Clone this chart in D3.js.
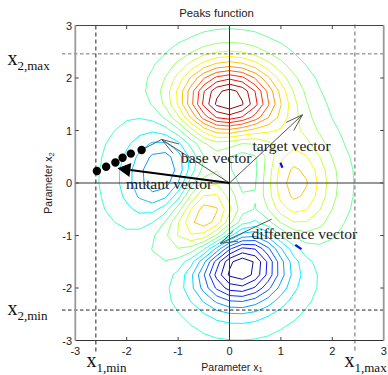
<!DOCTYPE html>
<html><head><meta charset="utf-8">
<script src="https://cdn.jsdelivr.net/npm/d3@7"></script>
<style>html,body{margin:0;padding:0;background:#fff;} svg{display:block;}</style>
</head><body>
<svg id="chart" width="388" height="375"></svg>
<script>
// ---- data ----
// sampling grid of the peaks surface (step 0.25, one extra sample beyond each edge)
const gridStep = 0.25;
const gridX = d3.range(-13, 14).map(i => i * gridStep);
const gridY = d3.range(-13, 14).map(i => i * gridStep);
const zMin = -6.5506, zMax = 8.1062, nLevels = 20;
// contour levels: evenly spaced between the extremes, extremes excluded
const levels = d3.range(1, nLevels + 1).map(k => zMin + k * (zMax - zMin) / (nLevels + 1));

const tickValues = [-3, -2, -1, 0, 1, 2, 3];
const tickLabels = ["-3", "-2", "-1", "0", "1", "2", "3"];

// parameter bounds
const x1Min = -2.6, x1Max = 2.44, x2Min = -2.42, x2Max = 2.46;

// population points
const popX = [-2.58, -2.40, -2.22, -2.08, -1.92, -1.71];
const popY = [0.23, 0.31, 0.39, 0.48, 0.56, 0.63];

// vectors [fromX, fromY, toX, toY]
const targetVec = [0, 0, 1.42, 1.30];
const baseVec = [0, 0, -1.32, 0.83];
const mutantVec = [0, 0, -2.18, 0.28];
const diffVec = [0.82, -0.69, -0.18, -1.15];
// short blue strokes
const blueMarks = [[0.99, 0.385, 1.03, 0.29], [1.28, -1.18, 1.40, -1.26]];

function peaks(x, y) {
  const sq = v => v * v;
  return 3 * sq(1 - x) * Math.exp(-sq(x) - sq(y + 1))
       - 10 * (x / 5 - Math.pow(x, 3) - Math.pow(y, 5)) * Math.exp(-sq(x) - sq(y))
       - (1 / 3) * Math.exp(-sq(x + 1) - sq(y));
}

// ---- layout ----
const svg = d3.select("#chart");
const L = 75.3, R = 383.7, T = 25.5, B = 340.5;
const xs = d3.scaleLinear().domain([-3, 3]).range([L, R]);
const ys = d3.scaleLinear().domain([-3, 3]).range([B, T]);

svg.append("defs").append("clipPath").attr("id", "plotClip")
  .append("rect").attr("x", L).attr("y", T).attr("width", R - L).attr("height", B - T);

// jet colormap (64 entries)
function jet(t) {
  t = Math.max(0, Math.min(1, t));
  t = Math.round(t * 63) / 63;
  const c = v => Math.round(255 * Math.max(0, Math.min(1, v)));
  return `rgb(${c(1.5 - Math.abs(4 * t - 3))},${c(1.5 - Math.abs(4 * t - 2))},${c(1.5 - Math.abs(4 * t - 1))})`;
}
const lmin = d3.min(levels), lmax = d3.max(levels);

// ---- contours ----
const nx = gridX.length, ny = gridY.length;
const values = new Array(nx * ny);
for (let j = 0; j < ny; j++)
  for (let i = 0; i < nx; i++) values[j * nx + i] = peaks(gridX[i], gridY[j]);

const contours = d3.contours().size([nx, ny]).thresholds(levels)(values);
const proj = d3.geoTransform({
  point(px, py) {
    this.stream.point(xs(gridX[0] + (px - 0.5) * gridStep), ys(gridY[0] + (py - 0.5) * gridStep));
  }
});
const path = d3.geoPath(proj);

svg.append("g").attr("clip-path", "url(#plotClip)")
  .selectAll("path").data(contours).join("path")
  .attr("d", path)
  .attr("fill", "none")
  .attr("stroke", d => jet((d.value - lmin) / (lmax - lmin)))
  .attr("stroke-width", 0.95)
  .attr("stroke-linejoin", "round");

// ---- axes through the origin ----
svg.append("line").attr("x1", xs(0)).attr("x2", xs(0)).attr("y1", T).attr("y2", B)
  .attr("stroke", "#333").attr("stroke-width", 1);
svg.append("line").attr("x1", L).attr("x2", R).attr("y1", ys(0)).attr("y2", ys(0))
  .attr("stroke", "#333").attr("stroke-width", 1);

// ---- bound lines ----
svg.append("line").attr("x1", 62).attr("x2", R).attr("y1", ys(x2Max)).attr("y2", ys(x2Max))
  .attr("stroke", "#777").attr("stroke-width", 1).attr("stroke-dasharray", "3.5,2.5");
svg.append("line").attr("x1", 62).attr("x2", R).attr("y1", ys(x2Min)).attr("y2", ys(x2Min))
  .attr("stroke", "#222").attr("stroke-width", 1).attr("stroke-dasharray", "3.5,2.5");
svg.append("line").attr("x1", xs(x1Min)).attr("x2", xs(x1Min)).attr("y1", T).attr("y2", 354)
  .attr("stroke", "#222").attr("stroke-width", 1).attr("stroke-dasharray", "4,3");
svg.append("line").attr("x1", xs(x1Max)).attr("x2", xs(x1Max)).attr("y1", T - 1).attr("y2", 352)
  .attr("stroke", "#666").attr("stroke-width", 1).attr("stroke-dasharray", "4,3");

// ---- frame and ticks ----
svg.append("line").attr("x1", L).attr("x2", R).attr("y1", T).attr("y2", T).attr("stroke", "#444").attr("stroke-width", 1);
svg.append("line").attr("x1", L).attr("x2", R).attr("y1", B).attr("y2", B).attr("stroke", "#333").attr("stroke-width", 1);
svg.append("line").attr("x1", L).attr("x2", L).attr("y1", T).attr("y2", B).attr("stroke", "#999").attr("stroke-width", 1.8);
svg.append("line").attr("x1", R).attr("x2", R).attr("y1", T).attr("y2", B).attr("stroke", "#999").attr("stroke-width", 1.8);

const tk = svg.append("g").attr("stroke", "#444").attr("stroke-width", 1);
tickValues.slice(1, -1).forEach(v => {
  tk.append("line").attr("x1", xs(v)).attr("x2", xs(v)).attr("y1", T).attr("y2", T + 3.5);
  tk.append("line").attr("x1", xs(v)).attr("x2", xs(v)).attr("y1", B).attr("y2", B - 3.5);
  tk.append("line").attr("y1", ys(v)).attr("y2", ys(v)).attr("x1", L).attr("x2", L + 3.5);
  tk.append("line").attr("y1", ys(v)).attr("y2", ys(v)).attr("x1", R).attr("x2", R - 3.5);
});

const sans = "'Liberation Sans', Arial, sans-serif";
const serif = "'Liberation Serif', 'Times New Roman', serif";

svg.append("g").selectAll("text").data(tickValues).join("text")
  .attr("x", d => xs(d)).attr("y", 355)
  .attr("text-anchor", "middle").attr("font-family", sans).attr("font-size", 11).attr("fill", "#222")
  .text((d, i) => tickLabels[i]);
svg.append("g").selectAll("text").data(tickValues).join("text")
  .attr("x", 72).attr("y", d => ys(d) + 4)
  .attr("text-anchor", "end").attr("font-family", sans).attr("font-size", 11).attr("fill", "#222")
  .text((d, i) => tickLabels[i]);

// title and axis titles
svg.append("text").attr("x", 216.5).attr("y", 16.5).attr("text-anchor", "middle")
  .attr("font-family", sans).attr("font-size", 11.4).attr("fill", "#222").text("Peaks function");

const xl = svg.append("text").attr("x", 232).attr("y", 370.5).attr("text-anchor", "middle")
  .attr("font-family", sans).attr("font-size", 10.5).attr("fill", "#222");
xl.append("tspan").text("Parameter x");
xl.append("tspan").attr("font-size", 7.5).attr("dy", 1.5).text("1");

const yl = svg.append("text").attr("transform", "translate(52,183) rotate(-90)").attr("text-anchor", "middle")
  .attr("font-family", sans).attr("font-size", 10.5).attr("fill", "#222");
yl.append("tspan").text("Parameter x");
yl.append("tspan").attr("font-size", 7.5).attr("dy", 2).text("2");

// bound labels
function boundLabel(x, y, sub) {
  const t = svg.append("text").attr("x", x).attr("y", y).attr("font-family", serif).attr("fill", "#111");
  t.append("tspan").attr("font-size", 20).text("x");
  t.append("tspan").attr("font-size", 13).attr("dy", 5).text(sub);
}
boundLabel(7.5, 65, "2,max");
boundLabel(7.5, 314.5, "2,min");
boundLabel(86.5, 366.5, "1,min");
boundLabel(344.5, 366.5, "1,max");

// ---- vectors ----
function openArrow(v, color, width) {
  const x1 = xs(v[0]), y1 = ys(v[1]), x2 = xs(v[2]), y2 = ys(v[3]);
  svg.append("line").attr("x1", x1).attr("y1", y1).attr("x2", x2).attr("y2", y2)
    .attr("stroke", color).attr("stroke-width", width);
  const a = Math.atan2(y1 - y2, x1 - x2), h = 18, w = 18 * Math.PI / 180;
  [a - w, a + w].forEach(b => {
    svg.append("line").attr("x1", x2).attr("y1", y2)
      .attr("x2", x2 + h * Math.cos(b)).attr("y2", y2 + h * Math.sin(b))
      .attr("stroke", color).attr("stroke-width", width);
  });
}
openArrow(targetVec, "#444", 0.9);
openArrow(baseVec, "#444", 0.9);
openArrow(diffVec, "#444", 0.9);

// link from the last population point to the base vector tip
svg.append("line").attr("x1", xs(popX[popX.length - 1])).attr("y1", ys(popY[popY.length - 1]))
  .attr("x2", xs(baseVec[2])).attr("y2", ys(baseVec[3])).attr("stroke", "#444").attr("stroke-width", 0.9);

// blue strokes
svg.append("g").selectAll("line").data(blueMarks).join("line")
  .attr("x1", d => xs(d[0])).attr("y1", d => ys(d[1])).attr("x2", d => xs(d[2])).attr("y2", d => ys(d[3]))
  .attr("stroke", "#1010e0").attr("stroke-width", 2.2);

// population
svg.append("g").selectAll("circle").data(popX).join("circle")
  .attr("cx", d => xs(d)).attr("cy", (d, i) => ys(popY[i])).attr("r", 4.2).attr("fill", "#000");

// mutant vector: thick shaft with filled head
{
  const v = mutantVec;
  const x1 = xs(v[0]), y1 = ys(v[1]), x2 = xs(v[2]), y2 = ys(v[3]);
  const a = Math.atan2(y1 - y2, x1 - x2), hl = 13, hw = 7;
  const bx = x2 + hl * Math.cos(a), by = y2 + hl * Math.sin(a);
  svg.append("line").attr("x1", x1).attr("y1", y1).attr("x2", bx).attr("y2", by)
    .attr("stroke", "#000").attr("stroke-width", 2);
  const px = -Math.sin(a), py = Math.cos(a);
  svg.append("polygon").attr("points", [
    [x2, y2], [bx + hw * px, by + hw * py], [bx - hw * px, by - hw * py]
  ].map(p => p.join(",")).join(" ")).attr("fill", "#000");
}

// vector labels
const vlab = [
  ["base vector", 181, 162.5],
  ["target vector", 252.5, 150.5],
  ["mutant vector", 126, 189],
  ["difference vector", 251.5, 239]
];
svg.append("g").selectAll("text").data(vlab).join("text")
  .attr("x", d => d[1]).attr("y", d => d[2])
  .attr("font-family", serif).attr("font-size", 15.6).attr("fill", "#1a1a1a")
  .text(d => d[0]);
</script>
</body></html>
